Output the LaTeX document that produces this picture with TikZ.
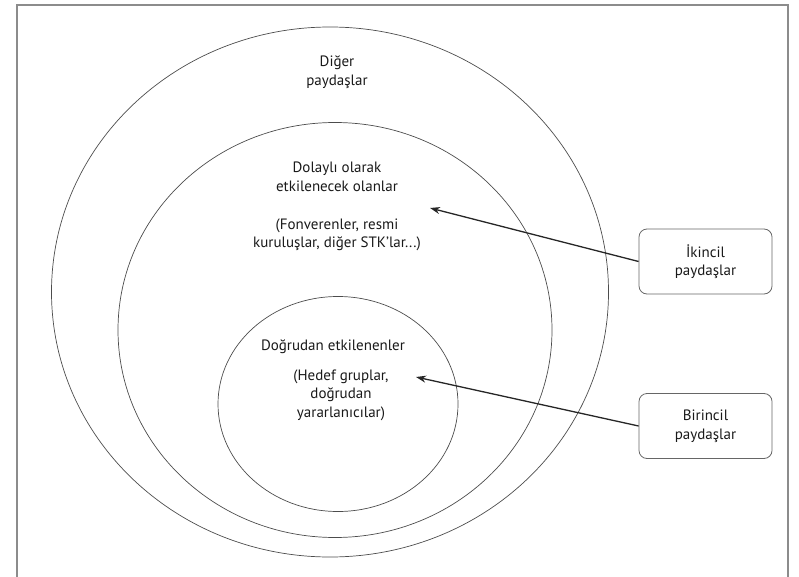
\documentclass[tikz,border=0pt]{standalone}
\usepackage{fontspec}
\setmainfont{PT Sans}
\usetikzlibrary{shapes.geometric,arrows.meta}
\begin{document}
\begin{tikzpicture}[x=1pt,y=-1pt,
  ring/.style={draw=black!70,line width=0.7pt,ellipse,inner sep=0pt},
  lbl/.style={align=center,font=\fontsize{15}{18.5}\selectfont,text=black!90},
  sbox/.style={draw=black!60,line width=0.8pt,rounded corners=8pt,minimum width=133pt,minimum height=65pt,align=center,font=\fontsize{15}{18.5}\selectfont,text=black!90},
  arr/.style={-{Stealth[length=10pt,width=7pt]},line width=1.3pt,draw=black!85}]
\useasboundingbox (0,0) rectangle (799,577);
\draw[black!45,line width=1.5pt] (17,580) -- (17,5) -- (788,5) -- (788,580);
\node[ring,minimum width=557pt,minimum height=530pt] (outer) at (330,292) {};
\node[ring,minimum width=434pt,minimum height=415pt] (middle) at (335,330) {};
\node[ring,minimum width=240pt,minimum height=215pt] (inner) at (338,404) {};
\node[lbl] (t1) at (337,72) {Diğer\\paydaşlar};
\node[lbl] (t2) at (337,177) {Dolaylı olarak\\etkilenecek olanlar};
\node[lbl] (t3) at (337,235) {(Fonverenler, resmi\\kuruluşlar, diğer STK’lar...)};
\node[lbl] (t4) at (333,347) {Doğrudan etkilenenler};
\node[lbl] (t5) at (341,395) {(Hedef gruplar,\\doğrudan\\yararlanıcılar)};
\node[sbox] (ik) at (705.5,261.5) {İkincil\\paydaşlar};
\node[sbox] (bir) at (705.5,426) {Birincil\\paydaşlar};
\coordinate (ikt) at (430,208);
\coordinate (birt) at (416,377);
\draw[arr] (ik.west) -- (ikt);
\draw[arr] (bir.west) -- (birt);
\end{tikzpicture}
\end{document}
